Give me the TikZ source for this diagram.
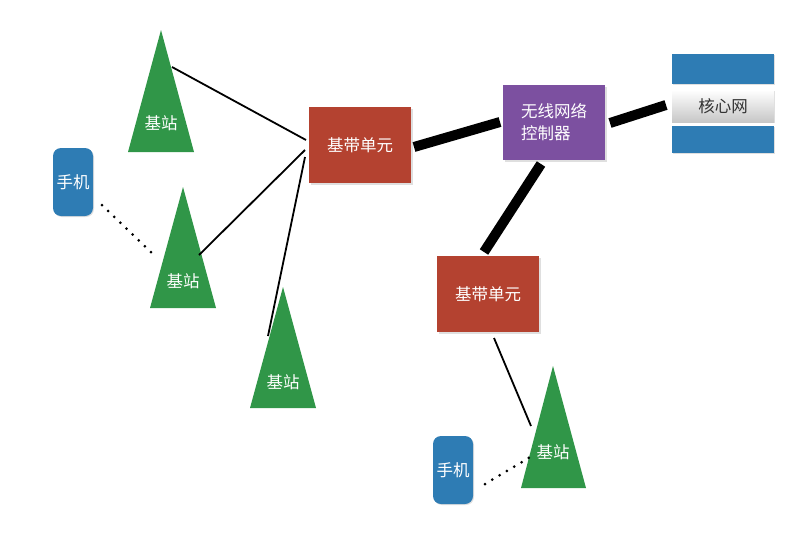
\documentclass[tikz,border=0pt]{standalone}
\usepackage{fontspec}
\newfontfamily\cjk{Noto Sans CJK SC}
\usetikzlibrary{shadows}
\definecolor{bsgreen}{RGB}{48,150,72}
\definecolor{bbured}{RGB}{180,66,48}
\definecolor{rncpurple}{RGB}{124,80,160}
\definecolor{phoneblue}{RGB}{46,124,180}
\begin{document}
\begin{tikzpicture}[x=1pt,y=-1pt,
  lbl/.style={text=white,font=\cjk\fontsize{16.5}{22}\selectfont},
  tri/.style={fill=bsgreen},
  box/.style={inner sep=0pt,minimum width=102pt,minimum height=76pt,
    drop shadow={opacity=0.25,shadow xshift=1.5pt,shadow yshift=-1.5pt}},
  bbu/.style={box,fill=bbured},
  rnc/.style={box,fill=rncpurple,minimum height=75pt},
  phone/.style={inner sep=0pt,minimum width=40pt,minimum height=68pt,rounded corners=8pt,fill=phoneblue,
    drop shadow={opacity=0.25,shadow xshift=1pt,shadow yshift=-1pt}},
  bar/.style={inner sep=0pt,minimum width=102pt,fill=phoneblue,
    drop shadow={opacity=0.25,shadow xshift=1pt,shadow yshift=-1pt}},
  thin/.style={line width=1.8pt},
  thick/.style={line width=10pt},
  dots/.style={line width=3pt,line cap=round,dash pattern=on 0pt off 8.5pt}]
\useasboundingbox (0,0) rectangle (800,533);

% base stations
\fill[tri] (161,30) -- (194,152) -- (128,152) -- cycle;
\node[lbl] (bs1) at (161,123) {基站};
\fill[tri] (183,187) -- (216,308) -- (150,308) -- cycle;
\node[lbl] (bs2) at (183,281) {基站};
\fill[tri] (283,287) -- (316,408) -- (250,408) -- cycle;
\node[lbl] (bs3) at (283,382) {基站};
\fill[tri] (553,366) -- (586,488) -- (521,488) -- cycle;
\node[lbl] (bs4) at (553,452) {基站};

% phones
\node[phone,lbl] (ph1) at (73,182) {手机};
\node[phone,lbl] (ph2) at (453,470) {手机};

% BBUs and RNC
\node[bbu,lbl] (bbu1) at (360,145) {基带单元};
\node[bbu,lbl] (bbu2) at (488,294) {基带单元};
\node[rnc,lbl,align=left] (rnc) at (554,122.5) {无线网络\\控制器};

% core network
\node[bar,minimum height=30pt] (coretop) at (723,69) {};
\node[inner sep=0pt,minimum width=102pt,minimum height=32pt,top color=white,bottom color=black!22,
  drop shadow={opacity=0.25,shadow xshift=1pt,shadow yshift=-1pt},
  font=\cjk\fontsize{16.5}{20}\selectfont,text=black!80] (core) at (723,106) {核心网};
\node[bar,minimum height=27pt] (corebot) at (723,139.5) {};

% connector end points
\coordinate (b1a) at (306,140);
\coordinate (b1b) at (305,150);
\coordinate (b1c) at (305,157);
\coordinate (s1) at (172,67);
\coordinate (s2) at (199,255);
\coordinate (s3) at (268,336);
\coordinate (s4) at (531,426);
\coordinate (b2top) at (494,338);
\coordinate (p1) at (102,205);
\coordinate (s2d) at (157,258);
\coordinate (p2) at (485,484);
\coordinate (s4d) at (532,456);
\coordinate (b1r) at (414,147);
\coordinate (rl) at (500,122);
\coordinate (rr) at (610,123);
\coordinate (cl) at (666,105);
\coordinate (rb) at (541,164);
\coordinate (b2t) at (484,252);

\draw[thin] (s1) -- (b1a);
\draw[thin] (s2) -- (b1b);
\draw[thin] (s3) -- (b1c);
\draw[thin] (b2top) -- (s4);
\draw[dots] (p1) -- (s2d);
\draw[dots] (p2) -- (s4d);

\draw[thick] (b1r) -- (rl);
\draw[thick] (rr) -- (cl);
\draw[thick] (rb) -- (b2t);
\end{tikzpicture}
\end{document}
